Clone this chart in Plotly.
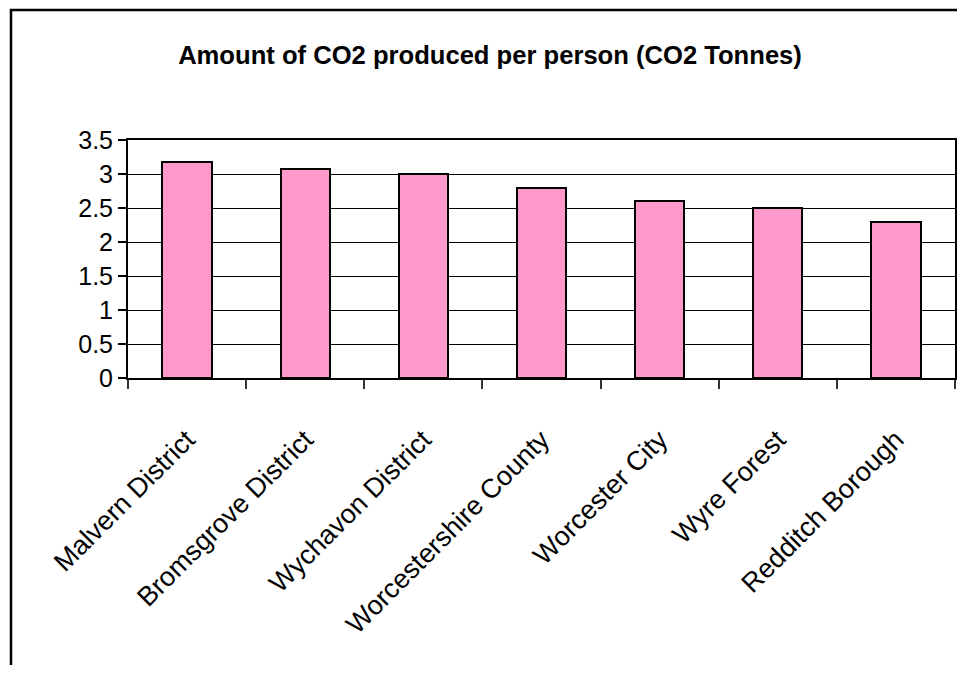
import plotly.graph_objects as go

categories = ["Malvern District", "Bromsgrove District", "Wychavon District",
              "Worcestershire County", "Worcester City", "Wyre Forest", "Redditch Borough"]
co2_per_person = [3.18, 3.08, 3.0, 2.8, 2.6, 2.5, 2.3]
title_text = "Amount of CO2 produced per person (CO2 Tonnes)"

# page body has an 8px default margin; figure sized to fit the window
OFF = 8
W, H = 965 - 2 * OFF, 679 - 2 * OFF - 6
# plot area in page pixels: x 128..955, y 140..378
L = 128 - OFF
T = 140 - OFF
R = W - (955 - OFF)
B = H - (378 - OFF)
pw, ph = W - L - R, H - T - B

def px_to_paper_x(px):
    return (px - OFF - L) / pw

def px_to_paper_y(py):
    return (H - B - (py - OFF)) / ph

bx0, bx1 = px_to_paper_x(11), px_to_paper_x(1000)
by0, by1 = px_to_paper_y(720), px_to_paper_y(10)

fig = go.Figure(go.Bar(
    x=categories, y=co2_per_person,
    marker=dict(color="#FF99CC", line=dict(color="black", width=2)),
    width=0.417,
))

fig.update_layout(
    width=W, height=H,
    margin=dict(l=L, r=R, t=T, b=B, autoexpand=False),
    paper_bgcolor="white", plot_bgcolor="white",
    showlegend=False,
    font=dict(family="Liberation Sans, Arial, sans-serif", color="black"),
    title=dict(text="<b>" + title_text + "</b>", x=px_to_paper_x(490), xref="paper",
               xanchor="center", y=1 - (55 - OFF) / H, yanchor="middle",
               font=dict(size=25.6, family="Liberation Sans, Arial, sans-serif", color="black")),
    bargap=0,
    shapes=[dict(type="path", xref="paper", yref="paper",
                 path=f"M {bx0},{by0} L {bx0},{by1} L {bx1},{by1}",
                 line=dict(color="black", width=2.5), layer="above")],
)

fig.update_xaxes(
    type="category", tickangle=-45, tickson="boundaries",
    ticks="outside", ticklen=9, tickcolor="#333", tickwidth=1.5,
    showline=True, linecolor="black", linewidth=2, mirror=True,
    tickfont=dict(size=27, color="black"),
    ticklabelstandoff=33,
    showgrid=False,
)
fig.update_yaxes(
    range=[0, 3.5], dtick=0.5, tick0=0,
    ticks="outside", ticklen=8, tickcolor="black", tickwidth=1.5,
    showline=True, linecolor="black", linewidth=2, mirror=True,
    showgrid=True, gridcolor="black", gridwidth=1,
    tickfont=dict(size=25, color="black"),
    zeroline=False,
)

fig.write_html("out.html")
